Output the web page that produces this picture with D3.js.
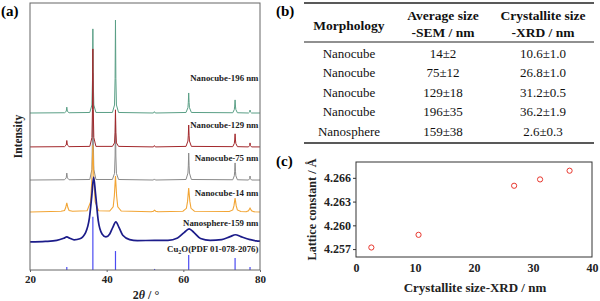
<!DOCTYPE html>
<html lang="en">
<head>
<meta charset="UTF-8">
<title>Cu2O XRD</title>
<style>
  body { margin: 0; background: #fff; }
  svg { display: block; font-family: "Times New Roman", "Liberation Serif", serif; }
</style>
</head>
<body>
<svg id="viz" width="600" height="301"></svg>
<script src="https://d3js.org/d3.v7.min.js"></script>
<script>
// ---------- panel (a) data: XRD patterns, [2theta, intensity above own baseline] ----------
const green196 = [[20,0],[29.0,0.1],[29.45,0.6],[29.6,2.2],[29.75,0.6],[30.2,0.1],
  [35.6,0.2],[36.15,3],[36.3,12],[36.4,31.5],[36.5,12],[36.65,3],[37.2,0.2],
  [41.5,0.2],[42.05,3],[42.2,13],[42.3,34.8],[42.4,13],[42.55,3],[43.1,0.2],
  [52.2,0],[52.45,0.5],[52.7,0],
  [60.7,0.2],[61.2,2],[61.3,4],[61.4,7.5],[61.5,4],[61.6,2],[62.1,0.2],
  [72.9,0.1],[73.3,1.3],[73.4,2.6],[73.5,4.9],[73.6,2.6],[73.7,1.3],[74.1,0.1],
  [77.0,0],[77.3,0.4],[77.4,1.1],[77.5,0.4],[77.8,0],[80,0]];
const red129 = [[20,0],[29.0,0.1],[29.45,0.7],[29.6,2.4],[29.75,0.7],[30.2,0.1],
  [35.6,0.2],[36.15,3.5],[36.3,14],[36.4,36.7],[36.5,14],[36.65,3.5],[37.2,0.2],
  [41.5,0.2],[42.05,1.5],[42.2,5.5],[42.3,13.9],[42.4,5.5],[42.55,1.5],[43.1,0.2],
  [52.2,0],[52.45,0.5],[52.7,0],
  [60.7,0.2],[61.2,2.2],[61.3,4.4],[61.4,8.2],[61.5,4.4],[61.6,2.2],[62.1,0.2],
  [72.9,0.1],[73.3,1.3],[73.4,2.6],[73.5,4.9],[73.6,2.6],[73.7,1.3],[74.1,0.1],
  [77.0,0],[77.3,0.5],[77.4,1.5],[77.5,0.5],[77.8,0],[80,0]];
const gray75 = [[20,0],[29.0,0.1],[29.45,0.8],[29.6,2.6],[29.75,0.8],[30.2,0.1],
  [35.6,0.2],[36.15,4],[36.3,16],[36.4,40],[36.5,16],[36.65,4],[37.2,0.2],
  [41.5,0.2],[42.05,2.5],[42.2,9],[42.3,24.5],[42.4,9],[42.55,2.5],[43.1,0.2],
  [52.2,0],[52.45,0.4],[52.7,0],
  [60.7,0.2],[61.2,2.6],[61.3,5.3],[61.4,10.1],[61.5,5.3],[61.6,2.6],[62.1,0.2],
  [72.9,0.1],[73.3,1.6],[73.4,3.3],[73.5,6.4],[73.6,3.3],[73.7,1.6],[74.1,0.1],
  [77.0,0],[77.3,0.5],[77.4,1.5],[77.5,0.5],[77.8,0],[80,0]];
const orange14 = [[20,0],[28.1,0.3],[29.0,0.6],[29.3,1.6],[29.6,3.4],[29.9,1.6],[30.2,0.6],[31.1,0.3],
  [34.9,0.5],[35.8,3.8],[36.1,11],[36.4,25],[36.7,11],[37.0,3.8],[37.9,0.5],
  [40.8,0.4],[41.7,2],[42.0,6],[42.3,13.5],[42.6,6],[42.9,2],[43.8,0.4],
  [51.6,0.1],[52.2,0.3],[52.5,0.7],[52.8,0.3],[53.4,0.1],
  [59.9,0.3],[60.8,1.4],[61.1,4],[61.4,9],[61.7,4],[62.0,1.4],[62.9,0.3],
  [72.0,0.2],[72.9,0.8],[73.2,2.3],[73.5,5.2],[73.8,2.3],[74.1,0.8],[75.0,0.2],
  [76.4,0.1],[77.0,0.5],[77.4,1.5],[77.8,0.5],[78.4,0.1],[80,0]];
const navy159 = [[20,0],[24,0.2],[27,0.6],[28.8,1.4],[29.6,1.9],[30.4,1.4],[31.5,0.8],
  [33,1.2],[34.5,3.5],[35.5,9],[36.1,17],[36.6,24.3],[37.1,18],[37.8,8],[38.8,3],
  [39.8,1.9],[40.8,3],[41.6,5.5],[42.4,7.5],[43.2,5.5],[44.2,2.5],[46,0.9],[48,0.5],
  [52.5,0.6],[56,0.6],[58.5,1.5],[60.2,3.5],[61.5,4.9],[62.8,3.5],[64.5,1.3],
  [67,0.6],[70,0.9],[72.2,2],[73.6,2.7],[75,2],[77.4,0.9],[79,0.4],[80,0.3]];

// Cu2O reference pattern (PDF 01-078-2076)
const refPos = [29.6, 36.4, 42.3, 52.5, 61.4, 73.5, 77.4];
const refInt = [1.1, 19.9, 7.1, 0.4, 5.6, 4.5, 1.1];

const patternNames = ["Nanocube-196 nm", "Nanocube-129 nm", "Nanocube-75 nm", "Nanocube-14 nm", "Nanosphere-159 nm"];
const patternOffsets = [58.8, 46.1, 33.7, 21.7, 10.5];
const patternLabelY = [70.6, 53.0, 41.0, 27.9, 16.3];
const xTicksA = [20, 40, 60, 80];

// ---------- panel (b) data ----------
const morphology = ["Nanocube", "Nanocube", "Nanocube", "Nanocube", "Nanosphere"];
const sizeSEM = ["14\u00b12", "75\u00b112", "129\u00b118", "196\u00b135", "159\u00b138"];
const sizeXRD = ["10.6\u00b11.0", "26.8\u00b11.0", "31.2\u00b10.5", "36.2\u00b11.9", "2.6\u00b10.3"];

// ---------- panel (c) data ----------
const crystSize = [2.6, 10.6, 26.8, 31.2, 36.2];
const latticeConst = [4.2572, 4.2588, 4.2650, 4.2658, 4.2669];
const xTicksC = [0, 10, 20, 30, 40];
const yTicksC = [4.257, 4.260, 4.263, 4.266];

const serif = "\"Times New Roman\", \"Liberation Serif\", serif";
const svg = d3.select("#viz");
svg.append("rect").attr("width", 600).attr("height", 301).attr("fill", "#fff");

// ================= panel (a) =================
const A = {left: 30, right: 260, top: 3, bottom: 270};
const xA = d3.scaleLinear().domain([20, 80]).range([A.left, A.right]);
const yA = d3.scaleLinear().domain([0, 100]).range([A.bottom, A.top]);

// draw order bottom -> top
const patterns = [green196, gray75, red129, orange14, navy159];
const patternColors = ["#5a9f86", "#8a8a8a", "#a3282c", "#f2a535", "#1c1c8a"];
const patternOff = [patternOffsets[0], patternOffsets[2], patternOffsets[1], patternOffsets[3], patternOffsets[4]];
const patternWidth = [1, 1, 1, 1.1, 1.7];

patterns.forEach((pts, i) => {
  const line = d3.line()
    .x(d => xA(d[0]))
    .y(d => yA(d[1] + patternOff[i]))
    .curve(i === 4 ? d3.curveMonotoneX : d3.curveLinear);
  svg.append("path")
    .datum(pts)
    .attr("d", line)
    .attr("fill", "none")
    .attr("stroke", patternColors[i])
    .attr("stroke-width", patternWidth[i]);
});

// reference sticks
svg.selectAll(".stick")
  .data(refPos)
  .enter()
  .append("line")
    .attr("class", "stick")
    .attr("x1", d => xA(d)).attr("x2", d => xA(d))
    .attr("y1", yA(0))
    .attr("y2", (d, i) => yA(refInt[i]))
    .attr("stroke", "#4b4bf2")
    .attr("stroke-width", 1.2);

// labels
svg.selectAll(".plabel")
  .data(patternNames)
  .enter()
  .append("text")
    .attr("class", "plabel")
    .attr("x", xA(79.6))
    .attr("y", (d, i) => yA(patternLabelY[i]))
    .attr("text-anchor", "end")
    .style("font-size", "8.8px")
    .style("font-weight", "bold")
    .style("fill", "#222")
    .text(d => d);

const cuLabel = svg.append("text")
  .attr("x", xA(79.6)).attr("y", yA(6.7))
  .attr("text-anchor", "end")
  .style("font-size", "8.8px").style("font-weight", "bold").style("fill", "#222");
cuLabel.append("tspan").text("Cu");
cuLabel.append("tspan").attr("dy", 2).style("font-size", "6px").text("2");
cuLabel.append("tspan").attr("dy", -2).text("O(PDF 01-078-2076)");

// frame + axis
svg.append("rect")
  .attr("x", A.left).attr("y", A.top)
  .attr("width", A.right - A.left).attr("height", A.bottom - A.top)
  .attr("fill", "none").attr("stroke", "#666").attr("stroke-width", 1);

const axA = svg.append("g")
  .attr("transform", `translate(0,${A.bottom})`)
  .call(d3.axisBottom(xA).tickValues(xTicksA).tickSize(2).tickPadding(3));
axA.select(".domain").remove();
axA.selectAll("line").attr("stroke", "#666");
axA.selectAll("text")
  .style("font-family", serif)
  .style("font-size", "11px").style("font-weight", "bold").attr("fill", "#222");

const xlabA = svg.append("text")
  .attr("x", 146).attr("y", 299)
  .attr("text-anchor", "middle")
  .style("font-size", "12px").style("font-weight", "bold").style("fill", "#222");
xlabA.append("tspan").text("2");
xlabA.append("tspan").style("font-style", "italic").text("\u03b8");
xlabA.append("tspan").text(" / \u00b0");

svg.append("text")
  .attr("transform", `translate(22,${(A.top + A.bottom) / 2}) rotate(-90)`)
  .attr("text-anchor", "middle")
  .style("font-size", "11.5px").style("font-weight", "bold").style("fill", "#222")
  .text("Intensity");

svg.append("text").attr("x", 1).attr("y", 16)
  .style("font-size", "15px").style("font-weight", "bold").text("(a)");

// ================= panel (b) =================
svg.append("text").attr("x", 276).attr("y", 16)
  .style("font-size", "15px").style("font-weight", "bold").text("(b)");

const colX = [349, 443, 543];
const tb = {left: 304, right: 594};
[[3, 1.6], [42, 1.1], [143, 1.6]].forEach(r => {
  svg.append("line")
    .attr("x1", tb.left).attr("x2", tb.right)
    .attr("y1", r[0]).attr("y2", r[0])
    .attr("stroke", "#222").attr("stroke-width", r[1]);
});

const headStyle = t => t.attr("text-anchor", "middle")
  .style("font-size", "13.5px").style("font-weight", "bold").style("fill", "#111");
headStyle(svg.append("text").attr("x", colX[0]).attr("y", 29.5)).text("Morphology");
headStyle(svg.append("text").attr("x", colX[1]).attr("y", 19.5)).text("Average size");
headStyle(svg.append("text").attr("x", colX[1]).attr("y", 36.5)).text("-SEM / nm");
headStyle(svg.append("text").attr("x", colX[2]).attr("y", 19.5)).text("Crystallite size");
headStyle(svg.append("text").attr("x", colX[2]).attr("y", 36.5)).text("-XRD / nm");

const rowY = d3.scaleLinear().domain([0, 4]).range([57.5, 135.5]);
[morphology, sizeSEM, sizeXRD].forEach((col, c) => {
  svg.selectAll(".cell" + c)
    .data(col)
    .enter()
    .append("text")
      .attr("class", "cell" + c)
      .attr("x", colX[c])
      .attr("y", (d, i) => rowY(i))
      .attr("text-anchor", "middle")
      .style("font-size", "13px")
      .style("fill", "#111")
      .text(d => d);
});

// ================= panel (c) =================
svg.append("text").attr("x", 276).attr("y", 166)
  .style("font-size", "15px").style("font-weight", "bold").text("(c)");

const C = {left: 356, right: 592, top: 162, bottom: 257};
const xC = d3.scaleLinear().domain([0, 40]).range([C.left, C.right]);
const yC = d3.scaleLinear().domain([4.2560, 4.2680]).range([C.bottom, C.top]);

svg.append("rect")
  .attr("x", C.left).attr("y", C.top)
  .attr("width", C.right - C.left).attr("height", C.bottom - C.top)
  .attr("fill", "none").attr("stroke", "#333").attr("stroke-width", 1);

const axCx = svg.append("g")
  .attr("transform", `translate(0,${C.bottom})`)
  .call(d3.axisBottom(xC).tickValues(xTicksC).tickSize(0).tickPadding(6));
const axCy = svg.append("g")
  .attr("transform", `translate(${C.left},0)`)
  .call(d3.axisLeft(yC).tickValues(yTicksC).tickFormat(d3.format(".3f")).tickSize(3).tickPadding(2));
[axCx, axCy].forEach(ax => {
  ax.select(".domain").remove();
  ax.selectAll("line").attr("stroke", "#333");
  ax.selectAll("text")
    .style("font-family", serif)
    .style("font-size", "12px").style("font-weight", "bold").attr("fill", "#222");
});

svg.selectAll(".pt")
  .data(crystSize)
  .enter()
  .append("circle")
    .attr("class", "pt")
    .attr("cx", d => xC(d))
    .attr("cy", (d, i) => yC(latticeConst[i]))
    .attr("r", 2.6)
    .attr("fill", "none")
    .attr("stroke", "#e8372e")
    .attr("stroke-width", 1);

svg.append("text")
  .attr("x", 475).attr("y", 292)
  .attr("text-anchor", "middle")
  .style("font-size", "13px").style("font-weight", "bold").style("fill", "#222")
  .text("Crystallite size-XRD / nm");

svg.append("text")
  .attr("transform", `translate(316,${(C.top + C.bottom) / 2 + 0}) rotate(-90)`)
  .attr("text-anchor", "middle")
  .style("font-size", "12.2px").style("font-weight", "bold").style("fill", "#222")
  .text("Lattice constant / \u00c5");
</script>
</body>
</html>
